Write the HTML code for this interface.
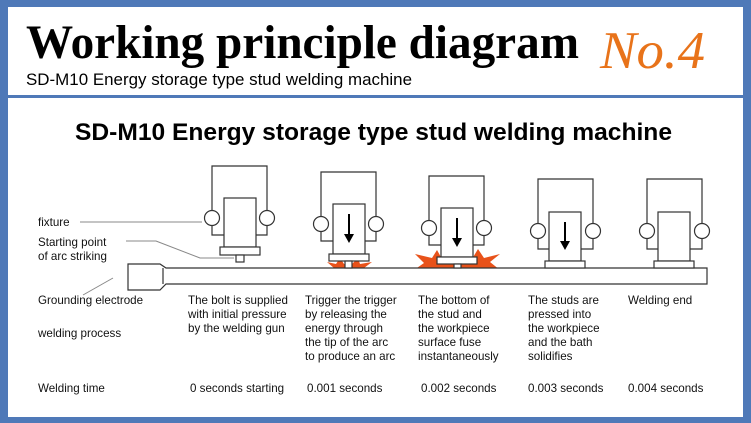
<!DOCTYPE html>
<html><head><meta charset="utf-8"><style>
html,body{margin:0;padding:0;background:#fff}
svg{display:block}
.t{font-family:"Liberation Sans",sans-serif;font-size:11.6px;fill:#111}
</style></head><body>
<svg width="751" height="423" viewBox="0 0 751 423" xmlns="http://www.w3.org/2000/svg">
<rect x="0" y="0" width="751" height="423" fill="#4f79b8"/>
<rect x="8" y="7" width="735" height="410" fill="#fff"/>
<rect x="8" y="95" width="735" height="3" fill="#4f79b8"/>
<text x="26" y="58" font-family="Liberation Serif,serif" font-weight="bold" font-size="48" fill="#000" textLength="553" lengthAdjust="spacingAndGlyphs">Working principle diagram</text>
<text x="600" y="68" font-family="Liberation Serif,serif" font-style="italic" font-size="53" fill="#e8731a" textLength="105" lengthAdjust="spacingAndGlyphs">No.4</text>
<text x="26" y="85" font-family="Liberation Sans,sans-serif" font-size="16.5" fill="#000" textLength="386" lengthAdjust="spacingAndGlyphs">SD-M10 Energy storage type stud welding machine</text>
<text x="75" y="140" font-family="Liberation Sans,sans-serif" font-weight="bold" font-size="24" fill="#000" textLength="597" lengthAdjust="spacingAndGlyphs">SD-M10 Energy storage type stud welding machine</text>

<g fill="#e8521a">
<polygon points="327,262 336,264 340,258 344,264 352,264 358,258 360,264 372,262 364,268 372,272 326,272 334,268"/>
<polygon points="415,254 432,258 437,250 442,259 472,259 478,249 484,258 500,254 490,262 500,270 414,270 424,263"/>
</g>

<g fill="#fff" stroke="#333" stroke-width="1.2">
<path d="M128,264 H160 L166,268 H707 V284 H166 L160,290 H128 Z"/>
<path d="M163,268 V284" fill="none"/>
</g>

<g fill="none" stroke="#888" stroke-width="1">
<line x1="80" y1="222" x2="202" y2="222"/>
<polyline points="126,241 156,241 200,258 234,258"/>
<line x1="83" y1="295" x2="113" y2="278"/>
</g>

<g fill="#fff" stroke="#333" stroke-width="1.2">
<polyline points="224,235 212,235 212,166 267,166 267,235 256,235" fill="none"/>
<circle cx="212" cy="218" r="7.5"/><circle cx="267" cy="218" r="7.5"/>
<rect x="224" y="198" width="32" height="49"/>
<rect x="220" y="247" width="40" height="8"/>
<rect x="236" y="255" width="8" height="7"/>
<polyline points="333,241 321,241 321,172 376,172 376,241 365,241" fill="none"/>
<circle cx="321" cy="224" r="7.5"/><circle cx="376" cy="224" r="7.5"/>
<rect x="333" y="204" width="32" height="50"/>
<rect x="329" y="254" width="40" height="7"/>
<rect x="345" y="261" width="7" height="7"/>
<polyline points="441,245 429,245 429,176 484,176 484,245 473,245" fill="none"/>
<circle cx="429" cy="228" r="7.5"/><circle cx="484" cy="228" r="7.5"/>
<rect x="441" y="208" width="32" height="49"/>
<rect x="437" y="257" width="40" height="7"/>
<rect x="454" y="264" width="7" height="4"/>
<polyline points="549,249 538,249 538,179 593,179 593,249 581,249" fill="none"/>
<circle cx="538" cy="231" r="7.5"/><circle cx="593" cy="231" r="7.5"/>
<rect x="549" y="212" width="32" height="49"/>
<rect x="545" y="261" width="40" height="7"/>
<polyline points="658,249 647,249 647,179 702,179 702,249 690,249" fill="none"/>
<circle cx="647" cy="231" r="7.5"/><circle cx="702" cy="231" r="7.5"/>
<rect x="658" y="212" width="32" height="49"/>
<rect x="654" y="261" width="40" height="7"/>
</g>
<g stroke="#000" stroke-width="2" fill="#000">
<line x1="349" y1="214" x2="349" y2="236"/><polygon points="344,234 354,234 349,243" stroke="none"/>
<line x1="457" y1="218" x2="457" y2="240"/><polygon points="452,238 462,238 457,247" stroke="none"/>
<line x1="565" y1="222" x2="565" y2="243"/><polygon points="560,241 570,241 565,250" stroke="none"/>
</g>

<text class="t" x="38" y="226">fixture</text>
<text class="t" x="38" y="246">Starting point</text>
<text class="t" x="38" y="260">of arc striking</text>
<text class="t" x="38" y="304">Grounding electrode</text>
<text class="t" x="38" y="337">welding process</text>
<text class="t" x="38" y="392">Welding time</text>

<text class="t" x="188" y="304">The bolt is supplied</text>
<text class="t" x="188" y="318">with initial pressure</text>
<text class="t" x="188" y="332">by the welding gun</text>
<text class="t" x="305" y="304">Trigger the trigger</text>
<text class="t" x="305" y="318">by releasing the</text>
<text class="t" x="305" y="332">energy through</text>
<text class="t" x="305" y="346">the tip of the arc</text>
<text class="t" x="305" y="360">to produce an arc</text>
<text class="t" x="418" y="304">The bottom of</text>
<text class="t" x="418" y="318">the stud and</text>
<text class="t" x="418" y="332">the workpiece</text>
<text class="t" x="418" y="346">surface fuse</text>
<text class="t" x="418" y="360">instantaneously</text>
<text class="t" x="528" y="304">The studs are</text>
<text class="t" x="528" y="318">pressed into</text>
<text class="t" x="528" y="332">the workpiece</text>
<text class="t" x="528" y="346">and the bath</text>
<text class="t" x="528" y="360">solidifies</text>
<text class="t" x="628" y="304">Welding end</text>

<text class="t" x="190" y="392">0 seconds starting</text>
<text class="t" x="307" y="392">0.001 seconds</text>
<text class="t" x="421" y="392">0.002 seconds</text>
<text class="t" x="528" y="392">0.003 seconds</text>
<text class="t" x="628" y="392">0.004 seconds</text>
</svg>
</body></html>
